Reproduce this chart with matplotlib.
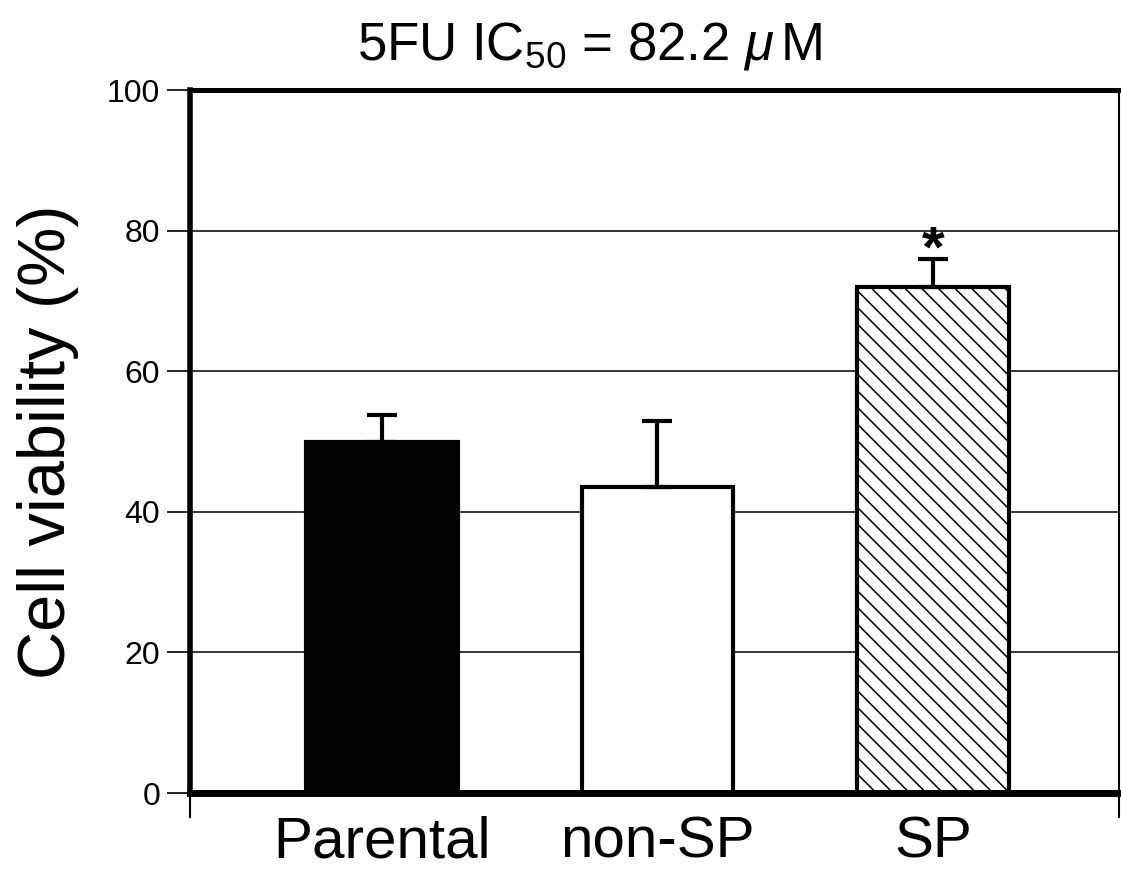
import matplotlib
matplotlib.use("Agg")
import matplotlib.pyplot as plt
import numpy as np

# 字体设置
config = {
    "font.family": ['Liberation Sans', 'DejaVu Sans'],
    "mathtext.fontset": 'custom',
    "mathtext.rm": 'Liberation Sans',
    "mathtext.it": 'Liberation Sans:italic',
    "hatch.linewidth": 1.1,
    "hatch.color": 'black',
}
plt.rcParams.update(config)

# 数据
groups = ['Parental', 'non-SP', 'SP']
viability = [50.0, 43.5, 72.0]
err_up = [3.8, 9.4, 4.0]
bar_colors = ['black', 'white', 'white']
bar_hatches = ['', '', '\\\\']
y_ticks = [0, 20, 40, 60, 80, 100]

x = np.arange(len(groups))
width = 0.55

fig = plt.figure(figsize=(11.21, 8.73), dpi=100)
ax = fig.add_axes([0.1695, 0.0916, 0.8285, 0.8053])

# 网格线
for t in y_ticks[1:-1]:
    ax.axhline(t, color='black', linewidth=1.1, zorder=0)

bars = ax.bar(x, viability, width, color=bar_colors, edgecolor='black',
              linewidth=3, zorder=2)
for b, h in zip(bars, bar_hatches):
    b.set_hatch(h)

ax.errorbar(x, viability, yerr=[np.zeros(len(x)), err_up], fmt='none',
            ecolor='black', elinewidth=3, capsize=10.5, capthick=3, zorder=3)

# 显著性标记
ax.text(x[2], 80.8, '*', ha='center', va='top',
        fontsize=42, fontweight='bold')

ax.set_xlim(-0.697, 2.675)
ax.set_ylim(0, 100)
ax.set_yticks(y_ticks)
ax.tick_params(axis='y', length=16.5, width=1.2, pad=5, labelsize=23)

# x轴: 边界刻度 + 类别标签
ax.set_xticks([-0.697, 2.675])
ax.set_xticklabels(['', ''])
ax.tick_params(axis='x', which='major', length=18, width=1.5)
ax.set_xticks(x, minor=True)
ax.set_xticklabels(groups, minor=True, fontsize=42)
ax.tick_params(axis='x', which='minor', length=0, pad=16)

ax.set_ylabel('Cell viability (%)', fontsize=48, labelpad=20)

# 边框宽度
ax.spines['left'].set_linewidth(4)
ax.spines['top'].set_linewidth(3.6)
ax.spines['bottom'].set_linewidth(5)
ax.spines['right'].set_linewidth(1.5)

fig.text(590 / 1121, 1 - 60 / 873, r'5FU IC$_{50}$ = 82.2 $\mu\,$M',
         ha='center', va='baseline', fontsize=38)

plt.savefig('out.png', dpi=100)
